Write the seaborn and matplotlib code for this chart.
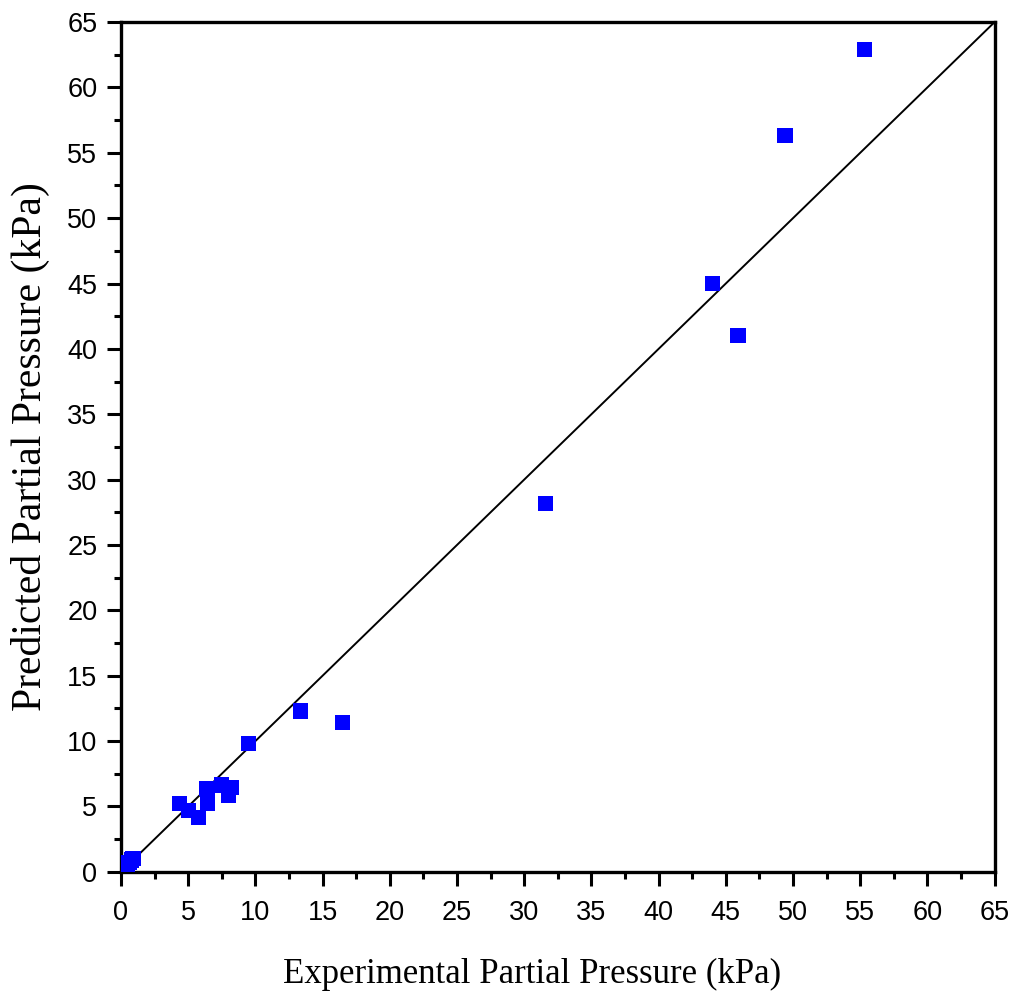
import numpy as np
import pandas as pd
import matplotlib
matplotlib.use("Agg")
import matplotlib.pyplot as plt
import seaborn as sns
from matplotlib.ticker import MultipleLocator

# Experimental vs. predicted partial pressure (kPa)
experimental = [0.5, 0.6, 0.8, 0.9, 4.35, 5.0, 5.8, 6.4, 6.45, 7.5, 8.0, 8.25,
                9.5, 13.35, 16.5, 31.6, 44.0, 45.9, 49.4, 55.3]
predicted = [0.5, 0.7, 0.9, 1.0, 5.25, 4.7, 4.15, 6.4, 5.25, 6.65, 5.85, 6.45,
             9.8, 12.3, 11.4, 28.2, 45.0, 41.0, 56.3, 62.9]

axis_min, axis_max = 0, 65
df = pd.DataFrame({"Experimental": experimental, "Predicted": predicted})

sns.set_style("ticks")
plt.rcParams["font.family"] = ["Liberation Sans", "DejaVu Sans"]
plt.rcParams["text.color"] = "black"
plt.rcParams["axes.labelcolor"] = "black"

fig = plt.figure(figsize=(10.16, 10.01), dpi=100)
ax = fig.add_axes([0.119, 0.129, 0.860, 0.849])

# parity line y = x
ax.plot([axis_min, axis_max], [axis_min, axis_max], color="black", lw=1.4, zorder=1)

sns.scatterplot(data=df, x="Experimental", y="Predicted", ax=ax, marker="s",
                s=120, color="#0000FF", edgecolor="none", zorder=3, legend=False)

ax.set_xlim(axis_min, axis_max)
ax.set_ylim(axis_min, axis_max)
ax.xaxis.set_major_locator(MultipleLocator(5))
ax.yaxis.set_major_locator(MultipleLocator(5))
ax.xaxis.set_minor_locator(MultipleLocator(2.5))
ax.yaxis.set_minor_locator(MultipleLocator(2.5))

for sp in ax.spines.values():
    sp.set_linewidth(2.4)
    sp.set_color("black")

ax.tick_params(which="major", direction="out", length=10, width=2.2,
               labelsize=19.5, colors="black")
ax.tick_params(which="minor", direction="out", length=5, width=2.2, colors="black")
ax.tick_params(axis="x", which="major", pad=10)
ax.tick_params(axis="y", which="major", pad=7)
ax.tick_params(top=False, right=False, which="both")

serif = ["Liberation Serif", "DejaVu Serif"]
ax.set_xlabel("Experimental Partial Pressure (kPa)", fontsize=25, family=serif, color="black")
ax.set_ylabel("Predicted Partial Pressure (kPa)", fontsize=30, family=serif, color="black")
ax.xaxis.label.set_va("center")
ax.yaxis.label.set_va("center")
ax.xaxis.set_label_coords(0.47, -0.121)
ax.yaxis.set_label_coords(-0.104, 0.5)

fig.savefig("out.png", dpi=100)
